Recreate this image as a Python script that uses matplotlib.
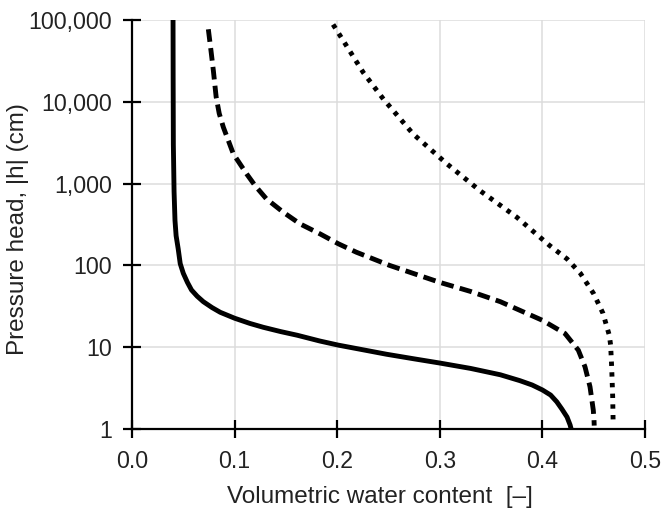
import matplotlib
matplotlib.use('Agg')
import matplotlib.pyplot as plt
from matplotlib.ticker import FuncFormatter, FixedLocator, NullLocator

plt.rcParams['font.family'] = ['Liberation Sans', 'DejaVu Sans']

# water retention curves: theta [-] vs |h| [cm]
theta_solid = [0.0400, 0.0401, 0.0403, 0.0410, 0.0419, 0.0430, 0.0450, 0.0470,
               0.0500, 0.0540, 0.0580, 0.0635, 0.0695, 0.0780, 0.0860, 0.1000,
               0.1150, 0.1280, 0.1450, 0.1610, 0.1830, 0.2010, 0.2250, 0.2480,
               0.2750, 0.3000, 0.3300, 0.3590, 0.3780, 0.3900, 0.4000, 0.4080,
               0.4140, 0.4190, 0.4240, 0.4270, 0.4280]
h_solid = [100000, 20000, 3000, 800, 354, 230, 160, 105,
           80, 62, 50, 42, 36, 30.5, 26.7, 22.6,
           19.5, 17.5, 15.5, 14.0, 11.9, 10.6, 9.3, 8.2,
           7.2, 6.4, 5.5, 4.6, 3.9, 3.45, 3.0, 2.6,
           2.15, 1.75, 1.4, 1.12, 1.0]

theta_dashed = [0.0744, 0.0770, 0.0793, 0.0820, 0.0850, 0.0890, 0.0988, 0.1117,
                0.1200, 0.1310, 0.1475, 0.1637, 0.1832, 0.2010, 0.2186, 0.2510,
                0.3000, 0.3300, 0.3590, 0.4000, 0.4220, 0.4350, 0.4415, 0.4464,
                0.4496, 0.4503, 0.4505]
h_dashed = [77000, 42000, 24000, 11500, 7200, 4900, 2300, 1315,
            943, 650, 446, 322, 243, 184, 145, 100,
            62, 48, 36, 21.3, 14.7, 9.2, 5.76, 3.28,
            1.7, 1.29, 1.1]

theta_dotted = [0.1960, 0.2254, 0.2450, 0.2740, 0.3070, 0.3390, 0.3750, 0.3900,
                0.4070, 0.4240, 0.4370, 0.4500, 0.4590, 0.4652, 0.4665, 0.4675,
                0.4685, 0.4690]
h_dotted = [88000, 22800, 10800, 4040, 1740, 822, 388, 267,
            175, 120, 80, 45, 26, 14.0, 10.6, 5.76,
            2.48, 1.1]

x_ticks = [0.0, 0.1, 0.2, 0.3, 0.4, 0.5]
y_ticks = [1, 10, 100, 1000, 10000, 100000]

fig = plt.figure(figsize=(6.61, 5.11), dpi=100)
ax = fig.add_axes([0.1997, 0.1605, 0.9758 - 0.1997, 0.9609 - 0.1605])

ax.plot(theta_solid, h_solid, color='black', lw=3.5, solid_capstyle='butt',
        solid_joinstyle='round')
ax.plot(theta_dashed, h_dashed, color='black', lw=3.5, dashes=(2.6, 1.3),
        dash_capstyle='butt', dash_joinstyle='round')
ax.plot(theta_dotted, h_dotted, color='black', lw=3.5, dashes=(0.9, 1.3),
        dash_capstyle='butt')

ax.set_yscale('log')
ax.set_xlim(0, 0.5)
ax.set_ylim(1, 100000)
ax.xaxis.set_major_locator(FixedLocator(x_ticks))
ax.yaxis.set_major_locator(FixedLocator(y_ticks))
ax.yaxis.set_minor_locator(NullLocator())
ax.xaxis.set_major_formatter(FuncFormatter(lambda v, p: '{:.1f}'.format(v)))
ax.yaxis.set_major_formatter(FuncFormatter(lambda v, p: '{:,.0f}'.format(v)))

ax.grid(True, color='#dcdcdc', lw=1.1)
ax.set_axisbelow(True)
for side in ['top', 'right']:
    ax.spines[side].set_visible(False)
for side in ['left', 'bottom']:
    ax.spines[side].set_linewidth(1.6)

ax.tick_params(direction='inout', length=13, width=1.6, labelsize=16.7,
               colors='black', labelcolor='#222222')
ax.tick_params(axis='x', pad=8.5)
ax.tick_params(axis='y', pad=8)

ax.set_xlabel('Volumetric water content  [\u2013]', fontsize=17.5,
              color='#222222')
ax.set_ylabel('Pressure head, |h| (cm)', fontsize=17.5, color='#222222')
ax.xaxis.set_label_coords(0.483, -0.167, transform=ax.transAxes)
ax.yaxis.set_label_coords(-0.222, 0.49, transform=ax.transAxes)
ax.xaxis.label.set_va('center')
ax.yaxis.label.set_va('center')

fig.savefig('out.png', dpi=100)
